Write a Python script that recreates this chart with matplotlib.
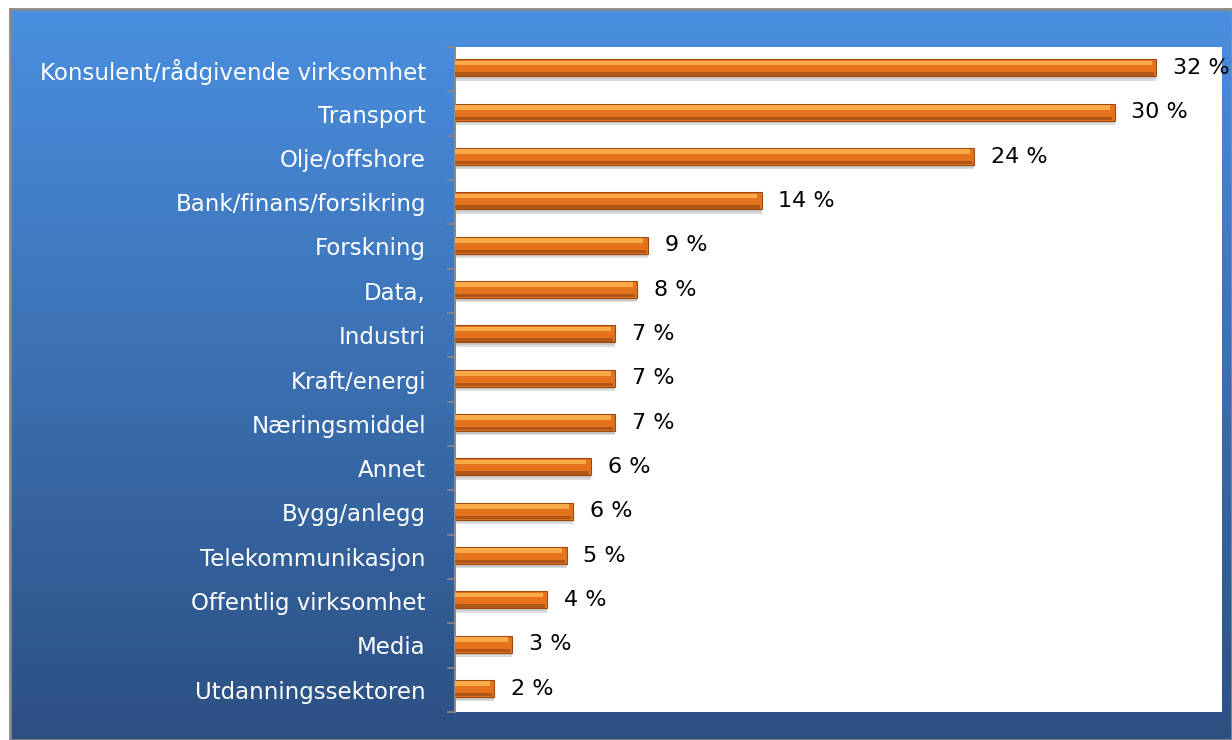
import matplotlib.pyplot as plt
import matplotlib.colors as mcolors
import numpy as np

# data
categories = ['Konsulent/rådgivende virksomhet', 'Transport', 'Olje/offshore',
              'Bank/finans/forsikring', 'Forskning', 'Data,', 'Industri',
              'Kraft/energi', 'Næringsmiddel', 'Annet', 'Bygg/anlegg',
              'Telekommunikasjon', 'Offentlig virksomhet', 'Media',
              'Utdanningssektoren']
values = [32.0, 30.1, 23.7, 14.0, 8.8, 8.3, 7.3, 7.3, 7.3, 6.2, 5.4, 5.1, 4.2, 2.6, 1.8]
labels = ['32 %', '30 %', '24 %', '14 %', '9 %', '8 %', '7 %', '7 %', '7 %',
          '6 %', '6 %', '5 %', '4 %', '3 %', '2 %']

W, H = 1232, 740
fig = plt.figure(figsize=(W / 100, H / 100), dpi=100)
fig.patch.set_facecolor('white')

# blue gradient background with grey frame
bg = fig.add_axes([10 / W, 0, 1 - 10 / W, 1 - 9 / H])
cmap = mcolors.LinearSegmentedColormap.from_list('bg', ['#4a8fe0', '#2c5082'])
grad = np.linspace(0, 1, 256).reshape(-1, 1)
bg.imshow(grad, aspect='auto', cmap=cmap, extent=[0, 1, 0, 1], origin='upper')
bg.set_xlim(0, 1)
bg.set_ylim(0, 1)
bg.set_xticks([])
bg.set_yticks([])
for s in bg.spines.values():
    s.set_color('#8a8a8a')
    s.set_linewidth(2)

ax = fig.add_axes([455 / W, 1 - 712 / H, (1222 - 455) / W, (712 - 47) / H])
ax.set_facecolor('white')

y = np.arange(len(categories)) - 0.03
h = 0.38
# shadow
ax.barh(y + 0.1, values, height=h, color='#7a7a7a', alpha=0.25, zorder=1)
ax.barh(y + 0.06, values, height=h, color='#7a7a7a', alpha=0.2, zorder=1)
# base bar
ax.barh(y, values, height=h, color='#e4731c', edgecolor='#9c4a12', linewidth=0.8, zorder=2)
# highlight on the top part
ax.barh(y - h / 2 + 0.08, [v - 0.2 for v in values], height=0.1, color='#fbaa48',
        linewidth=0, zorder=3)
# darker lower strip
ax.barh(y + h / 2 - 0.05, [v - 0.1 for v in values], height=0.08, color='#b05618',
        linewidth=0, zorder=3)

for yi, v, lab in zip(y, values, labels):
    ax.annotate(lab, (v, yi), xytext=(12, 0), textcoords='offset points',
                va='center', ha='left', fontsize=16, color='black',
                annotation_clip=False, clip_on=False)

ax.set_xlim(0, 35)
ax.set_ylim(len(categories) - 0.5, -0.5)
ax.set_xticks([])
ax.set_yticks(np.arange(len(categories)))
ax.set_yticklabels(categories, fontsize=16.5, color='white')
ax.tick_params(axis='y', which='major', length=0, pad=21)
ax.set_yticks(np.arange(-0.5, len(categories), 1), minor=True)
ax.tick_params(axis='y', which='minor', length=6, color='#8a8a8a', width=1.2)
for s in ['top', 'right', 'bottom']:
    ax.spines[s].set_visible(False)
ax.spines['left'].set_color('#8a8a8a')
ax.spines['left'].set_linewidth(1.5)

fig.savefig('out.png', dpi=100, facecolor='white')
